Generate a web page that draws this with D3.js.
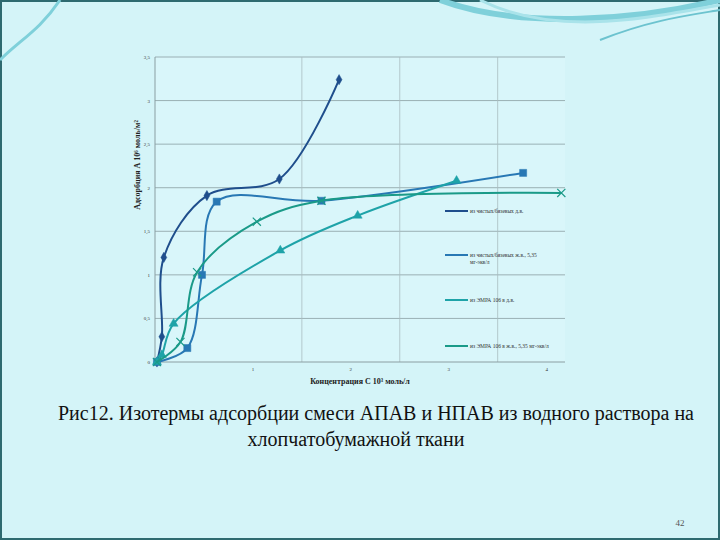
<!DOCTYPE html>
<html><head><meta charset="utf-8">
<script src="https://cdn.jsdelivr.net/npm/d3@7"></script>
<style>body{margin:0;background:#d4f4f8}</style>
</head><body>
<svg id="vis" width="720" height="540" font-family="Liberation Serif, DejaVu Serif, serif"></svg>
<script>
// series data
const s1x = [0.02, 0.07, 0.09, 0.53, 1.27, 1.88];
const s1y = [0, 0.29, 1.2, 1.91, 2.1, 3.24];
const s2x = [0.02, 0.33, 0.48, 0.63, 1.7, 3.76];
const s2y = [0, 0.16, 1.0, 1.84, 1.85, 2.17];
const s3x = [0.02, 0.07, 0.19, 1.28, 2.07, 3.08];
const s3y = [0, 0.08, 0.44, 1.28, 1.68, 2.08];
const s4x = [0.02, 0.26, 0.43, 1.04, 1.7, 4.15];
const s4y = [0, 0.23, 1.03, 1.61, 1.85, 1.94];
const names = ["из чистых/бязевых д.в.", "из чистых/бязевых ж.в., 5,35 мг-экв/л", "из ЭМРА 106 в д.в.", "из ЭМРА 106 в ж.в., 5,35 мг-экв/л"];
const xTicks = [1, 2, 3, 4];
const yTicks = [0, 0.5, 1, 1.5, 2, 2.5, 3, 3.5];
const yLabels = ["0", "0,5", "1", "1,5", "2", "2,5", "3", "3,5"];
const xGrid = [1.5, 2.5, 3.5];

const svg = d3.select("#vis");
// slide frame and decorations
svg.append("rect").attr("x", 1).attr("y", 1).attr("width", 718).attr("height", 538)
  .attr("fill", "#d4f4f8").attr("stroke", "#2e6a70").attr("stroke-width", 2);
svg.append("path").attr("d", "M440,0 C520,30 640,20 720,0").attr("fill", "none").attr("stroke", "#7fd0da").attr("stroke-width", 6);
svg.append("path").attr("d", "M480,0 C560,40 660,15 720,5").attr("fill", "none").attr("stroke", "#a9e3ea").attr("stroke-width", 3);
svg.append("path").attr("d", "M600,40 C650,20 690,15 720,10").attr("fill", "none").attr("stroke", "#6cc3cf").attr("stroke-width", 2);
svg.append("path").attr("d", "M0,60 C20,40 40,30 60,0").attr("fill", "none").attr("stroke", "#7fd0da").attr("stroke-width", 3);

const x = d3.scaleLinear().domain([0, 4.3]).range([155, 576]);
const y = d3.scaleLinear().domain([0, 3.5]).range([362, 57]);

svg.append("rect").attr("x", 155).attr("y", 57).attr("width", 410).attr("height", 305).attr("fill", "#d9f6fa");

const g = svg.append("g");
g.selectAll(".hg").data(yTicks.slice(1)).enter().append("line")
  .attr("x1", 155).attr("x2", 565).attr("y1", d => y(d)).attr("y2", d => y(d))
  .attr("stroke", "#8a9ea2").attr("stroke-width", 0.8);
g.selectAll(".vg").data(xGrid).enter().append("line")
  .attr("x1", d => x(d)).attr("x2", d => x(d)).attr("y1", 57).attr("y2", 362)
  .attr("stroke", "#a9bcc0").attr("stroke-width", 0.8);
g.append("line").attr("x1", 155).attr("x2", 155).attr("y1", 57).attr("y2", 362).attr("stroke", "#8a9ea2");
g.append("line").attr("x1", 155).attr("x2", 565).attr("y1", 362).attr("y2", 362).attr("stroke", "#8a9ea2");

g.selectAll(".yl").data(yTicks).enter().append("text")
  .attr("x", 150).attr("y", d => y(d) + 2).attr("text-anchor", "end")
  .style("font-size", "5px").attr("fill", "#333")
  .text((d, i) => yLabels[i]);
g.selectAll(".xl").data(xTicks).enter().append("text")
  .attr("x", d => x(d)).attr("y", 371).attr("text-anchor", "middle")
  .style("font-size", "5px").attr("fill", "#333")
  .text(d => d);

svg.append("text").attr("x", 360).attr("y", 384).attr("text-anchor", "middle")
  .style("font-size", "8px").style("font-weight", "bold").attr("fill", "#222")
  .text("Концентрация С 10³ моль/л");
svg.append("text").attr("transform", "rotate(-90)").attr("x", -165).attr("y", 140).attr("text-anchor", "middle")
  .style("font-size", "8px").style("font-weight", "bold").attr("fill", "#222")
  .text("Адсорбция А 10⁶ моль/м²");

const series = [
  {xs: s1x, ys: s1y, color: "#1f4e8c", sym: d3.symbolDiamond, size: 30},
  {xs: s2x, ys: s2y, color: "#2878b4", sym: d3.symbolSquare, size: 50},
  {xs: s3x, ys: s3y, color: "#1ea3a8", sym: d3.symbolTriangle, size: 35},
  {xs: s4x, ys: s4y, color: "#1a9a88", sym: d3.symbolX, size: 45, open: true}
];
const line = d3.line().x(d => x(d[0])).y(d => y(d[1])).curve(d3.curveCatmullRom.alpha(0.5));

series.forEach(function(s, k) {
  const pts = s.xs.map((v, i) => [v, s.ys[i]]);
  svg.append("path").datum(pts).attr("d", line).attr("fill", "none")
    .attr("stroke", s.color).attr("stroke-width", 2);
  svg.selectAll(null).data(pts).enter().append("path")
    .attr("d", d3.symbol().type(s.sym).size(s.size))
    .attr("transform", d => "translate(" + x(d[0]) + "," + y(d[1]) + ")")
    .attr("fill", s.open ? "none" : s.color).attr("stroke", s.color).attr("stroke-width", s.open ? 1.2 : 0.5);
});

// legend
const ly = [211, 255, 300, 346];
series.forEach(function(s, k) {
  svg.append("line").attr("x1", 445).attr("x2", 468).attr("y1", ly[k]).attr("y2", ly[k])
    .attr("stroke", s.color).attr("stroke-width", 2);
  const t = svg.append("text").attr("x", 470).attr("y", ly[k] + 2)
    .style("font-size", "5.5px").attr("fill", "#333");
  if (k === 1) {
    t.append("tspan").text("из чистых/бязевых ж.в., 5,35");
    t.append("tspan").attr("x", 470).attr("dy", 7).text("мг-экв/л");
  } else t.text(names[k]);
});

// caption
const cap = svg.append("text").attr("text-anchor", "middle")
  .style("font-size", "20px").attr("fill", "#111");
cap.append("tspan").attr("x", 376).attr("y", 420).text("Рис12. Изотермы адсорбции смеси АПАВ и НПАВ из водного раствора на");
cap.append("tspan").attr("x", 356).attr("y", 446).text("хлопчатобумажной  ткани");
svg.append("text").attr("x", 680).attr("y", 526).attr("text-anchor", "middle")
  .style("font-size", "9px").attr("fill", "#555").text("42");
</script>
</body></html>
